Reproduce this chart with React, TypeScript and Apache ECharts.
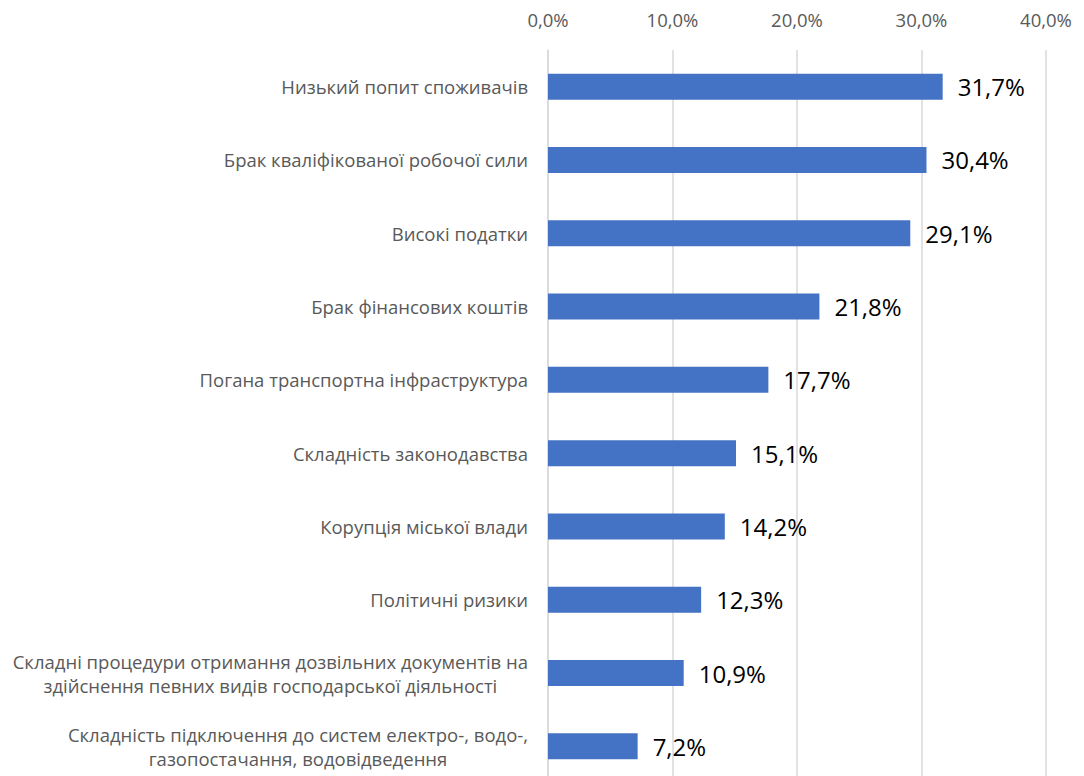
import React, { useEffect, useRef } from "react";
import * as echarts from "echarts";

const categories = [
  "Низький попит споживачів",
  "Брак кваліфікованої робочої сили",
  "Високі податки",
  "Брак фінансових коштів",
  "Погана транспортна інфраструктура",
  "Складність законодавства",
  "Корупція міської влади",
  "Політичні ризики",
  "Складні процедури отримання дозвільних документів на\nздійснення певних видів господарської діяльності",
  "Складність підключення до систем електро-, водо-,\nгазопостачання, водовідведення",
];
const values = [31.7, 30.4, 29.1, 21.8, 17.7, 15.1, 14.2, 12.3, 10.9, 7.2];
const axisMin = 0;
const axisMax = 40;
const axisInterval = 10;

const fmt = (v: number) => v.toFixed(1).replace(".", ",") + "%";

export default function App() {
  const ref = useRef<HTMLDivElement>(null);
  useEffect(() => {
    if (!ref.current) return;
    const chart = echarts.init(ref.current, undefined, { renderer: "svg" });
    chart.setOption({
      animation: false,
      textStyle: { fontFamily: "'Open Sans', 'Noto Sans', sans-serif" },
      grid: { left: 548, right: 38, top: 50, bottom: 7, containLabel: false },
      xAxis: {
        type: "value",
        position: "top",
        min: axisMin,
        max: axisMax,
        interval: axisInterval,
        axisLine: { show: false },
        axisTick: { show: false },
        splitLine: { lineStyle: { color: "#d9d9d9", width: 1.5 } },
        axisLabel: {
          formatter: (v: number) => fmt(v),
          color: "#595959",
          fontSize: 18.5,
          margin: 21,
        },
      },
      yAxis: {
        type: "category",
        inverse: true,
        data: categories,
        axisLine: { show: true, lineStyle: { color: "#d9d9d9", width: 1.5 } },
        axisTick: { show: false },
        axisLabel: {
          color: "#595959",
          fontSize: 18.5,
          margin: 20,
          align: "right",
          formatter: (v: string) =>
            v
              .split("\n")
              .map((l) => `{c|${l}}`)
              .join("\n"),
          rich: {
            c: {
              align: "center",
              color: "#595959",
              fontSize: 18.5,
              lineHeight: 24,
              fontFamily: "'Open Sans', 'Noto Sans', sans-serif",
            },
          },
        },
      },
      series: [
        {
          type: "bar",
          data: values,
          barWidth: 26,
          itemStyle: { color: "#4472C4" },
          label: {
            show: true,
            position: "right",
            distance: 15,
            color: "#000",
            fontSize: 24,
            formatter: (p: any) => fmt(p.value),
          },
        },
      ],
    });
    return () => chart.dispose();
  }, []);
  return (
    <div
      ref={ref}
      style={{ position: "fixed", left: 0, top: 0, width: 1084, height: 790, background: "#fff" }}
    />
  );
}
